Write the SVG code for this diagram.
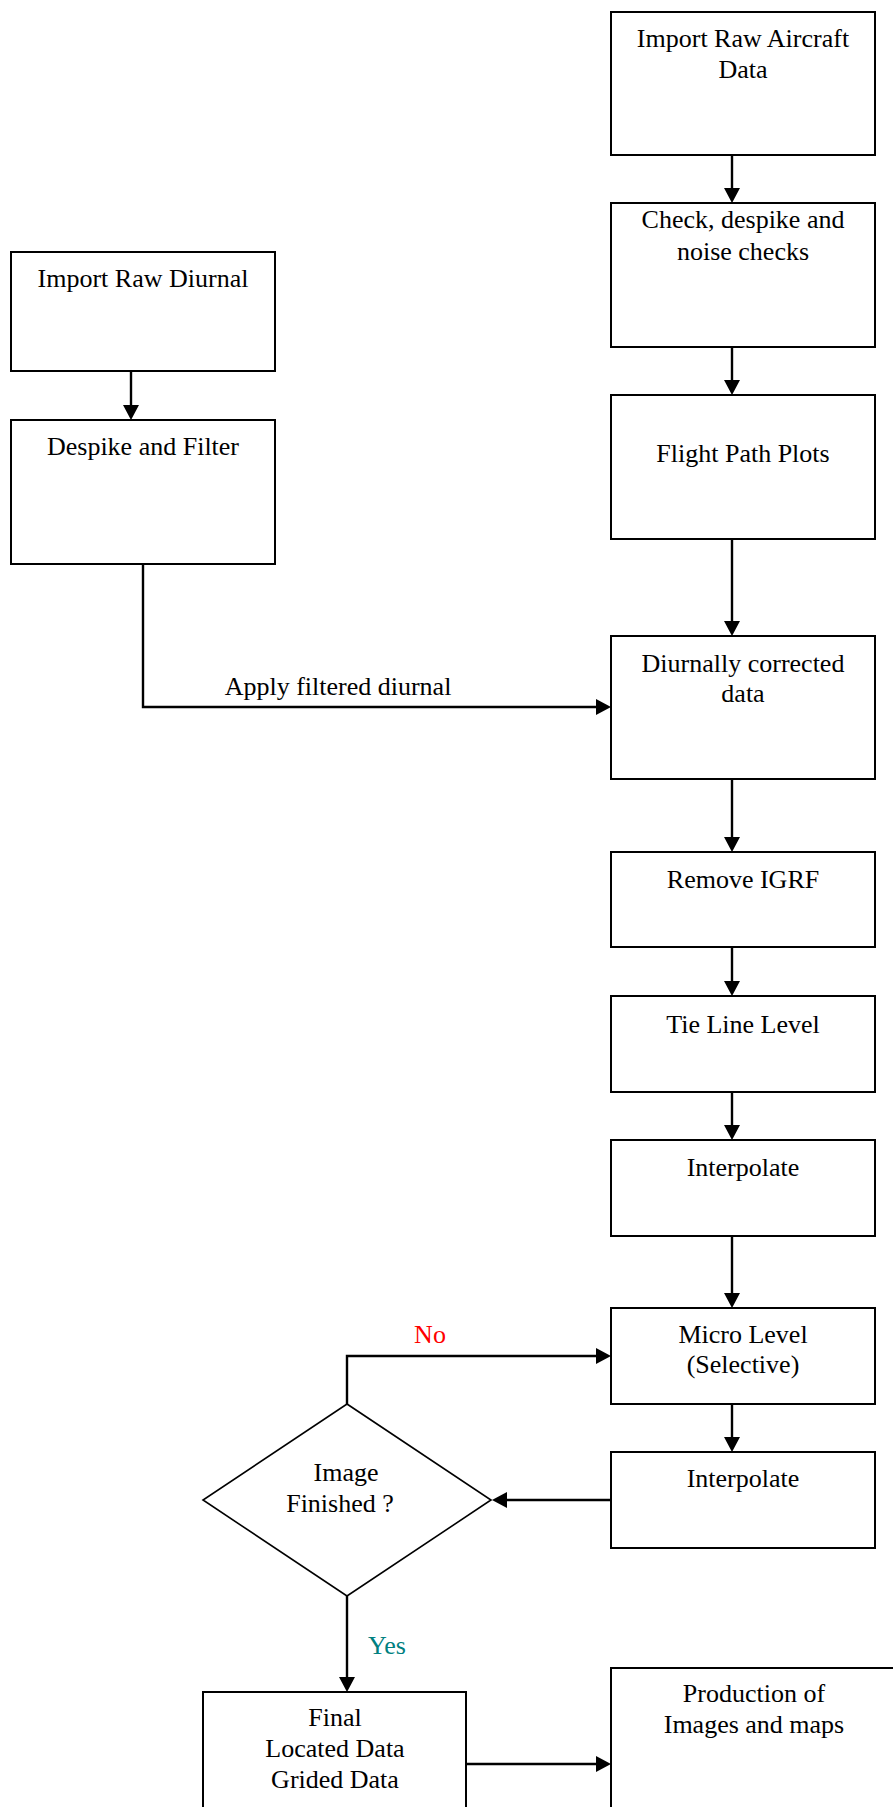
<svg xmlns="http://www.w3.org/2000/svg" width="893" height="1807" viewBox="0 0 893 1807">
<style>
  .box { fill: #ffffff; stroke: #000000; stroke-width: 2; }
  .dia { fill: #ffffff; stroke: #000000; stroke-width: 1.6; }
  .t { font-family: "Liberation Serif", "Times New Roman", serif; font-size: 26px; fill: #000000; text-anchor: middle; }
  .conn { fill: none; stroke: #000000; stroke-width: 2.4; }
  .no { fill: #ff0000; }
  .yes { fill: #008080; text-anchor: start; }
</style>
<defs>
  <marker id="arrow" viewBox="0 0 15 16" refX="1" refY="8" markerWidth="15" markerHeight="16" markerUnits="userSpaceOnUse" orient="auto">
    <path d="M0,0 L15,8 L0,16 Z" fill="#000000"/>
  </marker>
</defs>
<rect width="893" height="1807" fill="#ffffff"/>

<g id="connectors">
  <path class="conn" d="M732,155 V189" marker-end="url(#arrow)"/>
  <path class="conn" d="M732,347 V381" marker-end="url(#arrow)"/>
  <path class="conn" d="M732,539 V622" marker-end="url(#arrow)"/>
  <path class="conn" d="M732,779 V838" marker-end="url(#arrow)"/>
  <path class="conn" d="M732,947 V982" marker-end="url(#arrow)"/>
  <path class="conn" d="M732,1092 V1126" marker-end="url(#arrow)"/>
  <path class="conn" d="M732,1236 V1294" marker-end="url(#arrow)"/>
  <path class="conn" d="M732,1404 V1438" marker-end="url(#arrow)"/>
  <path class="conn" d="M131,371 V406" marker-end="url(#arrow)"/>
  <path class="conn" d="M143,564 V707 H597" marker-end="url(#arrow)"/>
  <path class="conn" d="M611,1500 H506" marker-end="url(#arrow)"/>
  <path class="conn" d="M347,1404 V1356 H597" marker-end="url(#arrow)"/>
  <path class="conn" d="M347,1596 V1678" marker-end="url(#arrow)"/>
  <path class="conn" d="M466,1764 H597" marker-end="url(#arrow)"/>
  <text class="t" x="338" y="695">Apply filtered diurnal</text>
  <text class="t no" x="430" y="1343">No</text>
  <text class="t yes" x="368" y="1654">Yes</text>
</g>

<g id="import-aircraft">
  <rect class="box" x="611" y="12" width="264" height="143"/>
  <text class="t" x="743" y="47">Import Raw Aircraft</text>
  <text class="t" x="743" y="78">Data</text>
</g>
<g id="check-despike">
  <rect class="box" x="611" y="203" width="264" height="144"/>
  <text class="t" x="743" y="228">Check, despike and</text>
  <text class="t" x="743" y="260">noise checks</text>
</g>
<g id="flight-path">
  <rect class="box" x="611" y="395" width="264" height="144"/>
  <text class="t" x="743" y="462">Flight Path Plots</text>
</g>
<g id="diurnally-corrected">
  <rect class="box" x="611" y="636" width="264" height="143"/>
  <text class="t" x="743" y="672">Diurnally corrected</text>
  <text class="t" x="743" y="702">data</text>
</g>
<g id="remove-igrf">
  <rect class="box" x="611" y="852" width="264" height="95"/>
  <text class="t" x="743" y="888">Remove IGRF</text>
</g>
<g id="tie-line">
  <rect class="box" x="611" y="996" width="264" height="96"/>
  <text class="t" x="743" y="1033">Tie Line Level</text>
</g>
<g id="interpolate-1">
  <rect class="box" x="611" y="1140" width="264" height="96"/>
  <text class="t" x="743" y="1176">Interpolate</text>
</g>
<g id="micro-level">
  <rect class="box" x="611" y="1308" width="264" height="96"/>
  <text class="t" x="743" y="1343">Micro Level</text>
  <text class="t" x="743" y="1373">(Selective)</text>
</g>
<g id="interpolate-2">
  <rect class="box" x="611" y="1452" width="264" height="96"/>
  <text class="t" x="743" y="1487">Interpolate</text>
</g>
<g id="production">
  <rect class="box" x="611" y="1668" width="300" height="160"/>
  <text class="t" x="754" y="1702">Production of</text>
  <text class="t" x="754" y="1733">Images and maps</text>
</g>
<g id="import-diurnal">
  <rect class="box" x="11" y="252" width="264" height="119"/>
  <text class="t" x="143" y="287">Import Raw Diurnal</text>
</g>
<g id="despike-filter">
  <rect class="box" x="11" y="420" width="264" height="144"/>
  <text class="t" x="143" y="455">Despike and Filter</text>
</g>
<g id="image-finished">
  <polygon class="dia" points="347,1404 491,1500 347,1596 203,1500"/>
  <text class="t" x="346" y="1481">Image</text>
  <text class="t" x="340" y="1512">Finished ?</text>
</g>
<g id="final-data">
  <rect class="box" x="203" y="1692" width="263" height="140"/>
  <text class="t" x="335" y="1726">Final</text>
  <text class="t" x="335" y="1757">Located Data</text>
  <text class="t" x="335" y="1788">Grided Data</text>
</g>
</svg>
